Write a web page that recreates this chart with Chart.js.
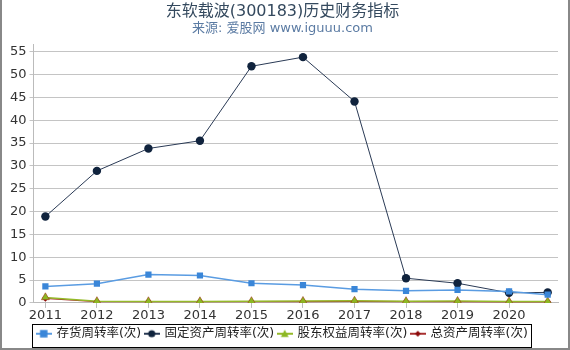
<!DOCTYPE html>
<html><head><meta charset="utf-8">
<script src="https://cdn.jsdelivr.net/npm/chart.js@4/dist/chart.umd.min.js"></script>
<style>
html,body{margin:0;padding:0;background:#fff;}
#wrap{width:570px;height:350px;}
</style></head><body>
<div id="wrap"><canvas id="c" width="570" height="350"></canvas></div>
<script>
// ---- data ----
const periods = [2011, 2012, 2013, 2014, 2015, 2016, 2017, 2018, 2019, 2020, 2020.75];
const tickYears = [2011, 2012, 2013, 2014, 2015, 2016, 2017, 2018, 2019, 2020];
const seriesNames = ['存货周转率(次)', '固定资产周转率(次)', '股东权益周转率(次)', '总资产周转率(次)'];
const inventoryTurnover = [3.6, 4.2, 6.2, 6.0, 4.3, 3.9, 3.0, 2.65, 2.85, 2.5, 1.8];
const fixedAssetTurnover = [18.9, 28.9, 33.8, 35.5, 51.8, 53.8, 44.1, 5.4, 4.3, 2.2, 2.3];
const equityTurnover = [1.2, 0.35, 0.33, 0.33, 0.35, 0.4, 0.45, 0.35, 0.4, 0.3, 0.3];
const totalAssetTurnover = [1.0, 0.25, 0.25, 0.25, 0.27, 0.3, 0.33, 0.27, 0.3, 0.22, 0.22];
const yTicks = [0, 5, 10, 15, 20, 25, 30, 35, 40, 45, 50, 55];

const FONT = "'DejaVu Sans', 'Noto Sans CJK SC', sans-serif";
const toXY = arr => arr.map((v, i) => ({x: periods[i], y: v}));

const styles = [
  {line: '#5a9ce2', point: '#3a86d8', shape: 'rect', r: 4.4, w: 1.5},
  {line: '#2a3a55', point: '#10233d', shape: 'circle', r: 4.2, w: 1},
  {line: '#95ba2a', point: '#8cb823', shape: 'triangle', r: 4.6, w: 1.5},
  {line: '#a83030', point: '#8b0a0a', shape: 'rectRot', r: 3.5, w: 1.2}
];
const seriesData = [inventoryTurnover, fixedAssetTurnover, equityTurnover, totalAssetTurnover];

function legendIcon(s) {
  const c = document.createElement('canvas');
  c.width = 16; c.height = 10;
  const g = c.getContext('2d');
  g.strokeStyle = s.line; g.lineWidth = 2;
  g.beginPath(); g.moveTo(0, 5); g.lineTo(16, 5); g.stroke();
  g.fillStyle = s.point;
  const cx = 8, cy = 5, r = s.r * 0.85;
  g.beginPath();
  if (s.shape === 'rect') { g.rect(cx - r, cy - r, 2 * r, 2 * r); }
  else if (s.shape === 'circle') { g.arc(cx, cy, r, 0, Math.PI * 2); }
  else if (s.shape === 'triangle') { g.moveTo(cx, cy - r); g.lineTo(cx + r, cy + r * 0.8); g.lineTo(cx - r, cy + r * 0.8); g.closePath(); }
  else { g.moveTo(cx, cy - r); g.lineTo(cx + r, cy); g.lineTo(cx, cy + r); g.lineTo(cx - r, cy); g.closePath(); }
  g.fill();
  return c;
}
const icons = styles.map(legendIcon);

const datasets = seriesData.map((d, i) => ({
  label: seriesNames[i],
  data: toXY(d),
  borderColor: styles[i].line,
  borderWidth: styles[i].w,
  backgroundColor: styles[i].point,
  pointBackgroundColor: styles[i].point,
  pointBorderColor: i === 2 ? '#a03a1a' : styles[i].point,
  pointBorderWidth: i === 2 ? 0.6 : 0,
  pointStyle: styles[i].shape,
  pointRadius: styles[i].r,
  tension: 0
}));

const frameAndLegendBox = {
  id: 'frameAndLegendBox',
  afterDraw(chart) {
    const ctx = chart.ctx;
    ctx.save();
    ctx.strokeStyle = '#888';
    ctx.lineWidth = 2;
    ctx.beginPath();
    ctx.moveTo(1, 0); ctx.lineTo(1, 349); ctx.lineTo(569, 349); ctx.lineTo(569, 0);
    ctx.stroke();
    const hb = chart.legend.legendHitBoxes;
    if (hb && hb.length) {
      let x0 = Infinity, x1 = -Infinity, y0 = Infinity, y1 = -Infinity;
      hb.forEach(h => { x0 = Math.min(x0, h.left); x1 = Math.max(x1, h.left + h.width); y0 = Math.min(y0, h.top); y1 = Math.max(y1, h.top + h.height); });
      ctx.strokeStyle = '#000';
      ctx.lineWidth = 1;
      ctx.strokeRect(Math.round(x0 - 5) + 0.5, Math.round(y0 - 4) + 0.5, Math.round(x1 - x0 + 8), Math.round(y1 - y0 + 10));
    }
    ctx.restore();
  }
};

new Chart(document.getElementById('c'), {
  type: 'line',
  data: {datasets},
  options: {
    responsive: false,
    animation: false,
    layout: {padding: {left: 7, right: 12, top: 0, bottom: 0}},
    plugins: {
      title: {display: true, text: '东软载波(300183)历史财务指标', color: '#34495e', font: {family: FONT, size: 16, weight: 'normal'}, padding: {top: 2, bottom: 0}},
      subtitle: {display: true, text: '来源: 爱股网 www.iguuu.com', color: '#5b7ba3', font: {family: FONT, size: 13, weight: 'normal'}, padding: {top: 0, bottom: 8}},
      legend: {
        position: 'bottom',
        labels: {
          font: {family: FONT, size: 12.5},
          color: '#222',
          usePointStyle: true,
          pointStyleWidth: 13,
          padding: 4,
          generateLabels: () => seriesNames.map((n, i) => ({
            text: n, pointStyle: icons[i], fillStyle: styles[i].point, strokeStyle: styles[i].line,
            lineWidth: 0, hidden: false, datasetIndex: i, fontColor: '#222'
          }))
        }
      },
      tooltip: {enabled: false}
    },
    scales: {
      x: {
        type: 'linear',
        min: 2010.77,
        max: 2020.95,
        afterBuildTicks: s => { s.ticks = tickYears.map(v => ({value: v})); },
        ticks: {callback: v => String(v), color: '#333', font: {family: FONT, size: 13}, maxRotation: 0, autoSkip: false, padding: 0},
        grid: {display: true, drawOnChartArea: false, drawTicks: true, tickLength: 5, color: '#bbb'},
        border: {color: '#bbb'}
      },
      y: {
        min: 0,
        max: 56.5,
        afterBuildTicks: s => { s.ticks = yTicks.map(v => ({value: v})); },
        ticks: {color: '#333', font: {family: FONT, size: 13}, padding: 3},
        grid: {color: '#c4c4c4', tickLength: 4, drawTicks: true},
        border: {color: '#bbb'}
      }
    }
  },
  plugins: [frameAndLegendBox]
});
</script>
</body></html>
